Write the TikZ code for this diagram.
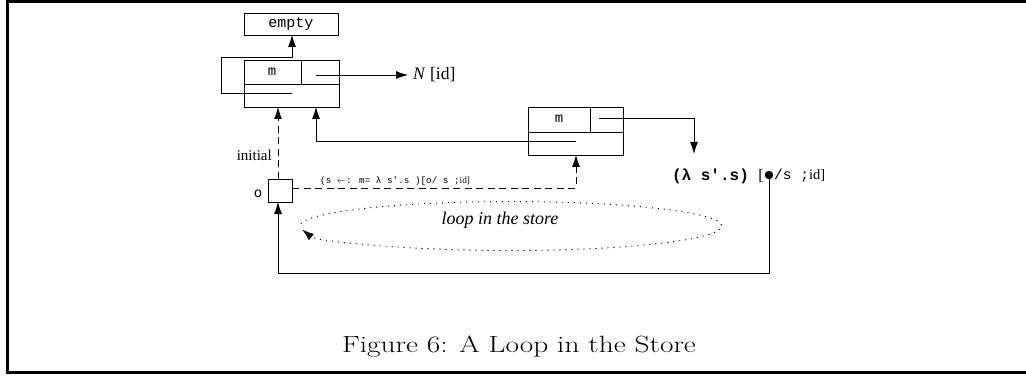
\documentclass[tikz,border=0pt]{standalone}
\usepackage{fontspec}
\newfontfamily\tms{Liberation Serif}
\newfontfamily\crr{Liberation Mono}
\usetikzlibrary{arrows.meta}
\tikzset{
  box/.style={draw, inner sep=0pt, anchor=north west},
  lbl/.style={inner sep=0pt},
  wire/.style={line width=0.8pt},
  dsh/.style={line width=0.8pt, dash pattern=on 7pt off 4.5pt},
  dots/.style={line width=0.9pt, dash pattern=on 1.1pt off 4.9pt},
  frame/.style={line width=3pt},
}
\begin{document}
\begin{tikzpicture}[x=1pt,y=-1pt, >={Latex[length=12pt,width=8pt]}]
\useasboundingbox (0,0) rectangle (1026,377);
% outer frame
\draw[frame] (7.5,1.5) -- (1030,1.5);
\draw[frame] (7.5,0) -- (7.5,373.5);
\draw[frame] (6,372) -- (1030,372);

% empty box
\node[box, minimum width=94pt, minimum height=22pt] (empty) at (244,13) {};
\node[lbl] (emptyt) at (291,24) {\crr\fontsize{15}{17}\selectfont empty};

% record 1
\node[box, minimum width=95pt, minimum height=47pt] (r1) at (244,60) {};
\draw[wire] (244,84) -- (339,84);
\draw[wire] (301,60) -- (301,84);
\node[lbl] (r1m) at (272,72) {\crr\fontsize{14}{16}\selectfont m};
\coordinate (r1a) at (316,75);
\coordinate (r1b) at (292,93);
\coordinate (r1in1) at (278,107);
\coordinate (r1in2) at (316,107);

% record 2
\node[box, minimum width=95pt, minimum height=48pt] (r2) at (528,107) {};
\draw[wire] (528,132) -- (623,132);
\draw[wire] (590,107) -- (590,132);
\node[lbl] (r2m) at (559,119) {\crr\fontsize{14}{16}\selectfont m};
\coordinate (r2a) at (599,118);
\coordinate (r2b) at (576,141);
\coordinate (r2in) at (576,155);

% N [id]
\node[lbl, anchor=west] (nid) at (413,75) {\tms\fontsize{17.5}{20}\selectfont \textit{N} [id]};
\draw[wire,->] (r1a) -- ([xshift=-5pt]nid.west);

% loop to empty
\draw[wire,->] (r1b) -- (221,93) -- (221,57) -- (292,57) -- (292,35);

% record2 to record1
\draw[wire,->] (r2b) -- (316,141) -- (r1in2);

% lambda expression
\node[circle, fill, inner sep=0pt, minimum size=8.5pt] (bul) at (769,175) {};
\node[lbl, anchor=east] (lam) at (764,176) {\crr\bfseries\fontsize{16}{18}\selectfont (λ s'.s) {\mdseries\tms[}};
\node[lbl, anchor=west] (lam2) at (774,176) {\crr\fontsize{14.5}{17}\selectfont /s ;{\tms id]}};
\draw[wire,->] (r2a) -- (694,118) -- (694,154);

% o box
\node[box, minimum width=24pt, minimum height=23pt] (obox) at (268,179) {};
\node[lbl] (olbl) at (258,194) {\crr\fontsize{14}{16}\selectfont o};
\node[lbl, anchor=east] (init) at (272,155) {\tms\fontsize{15}{17}\selectfont initial};
\draw[dsh,->] (obox.north west -| r1in1) -- (r1in1);
\draw[dsh,->] (292,188) -- (576,188) -- (r2in);
\node[lbl, anchor=base west] (sub) at (320,184) {\crr\fontsize{9.3}{11}\selectfont (s $\leftarrow$: m= λ s'.s )[o/ s ;{\tms id]}};

% bottom loop
\draw[wire,->] (bul.south) -- (769,273) -- (278,273) -- (278,202);

% dotted ellipse
\draw[dots,->] (300.8,223.9) arc[start angle=-175, end angle=172, x radius=211, y radius=24.5];
\node[lbl] (loop) at (500,220) {\tms\fontsize{18}{20}\selectfont\itshape loop in the store};

% caption
\node[lbl] (cap) at (519,347) {\scalebox{1.25}[1]{\fontsize{23.5}{26}\selectfont Figure 6: A Loop in the Store}};
\end{tikzpicture}
\end{document}
